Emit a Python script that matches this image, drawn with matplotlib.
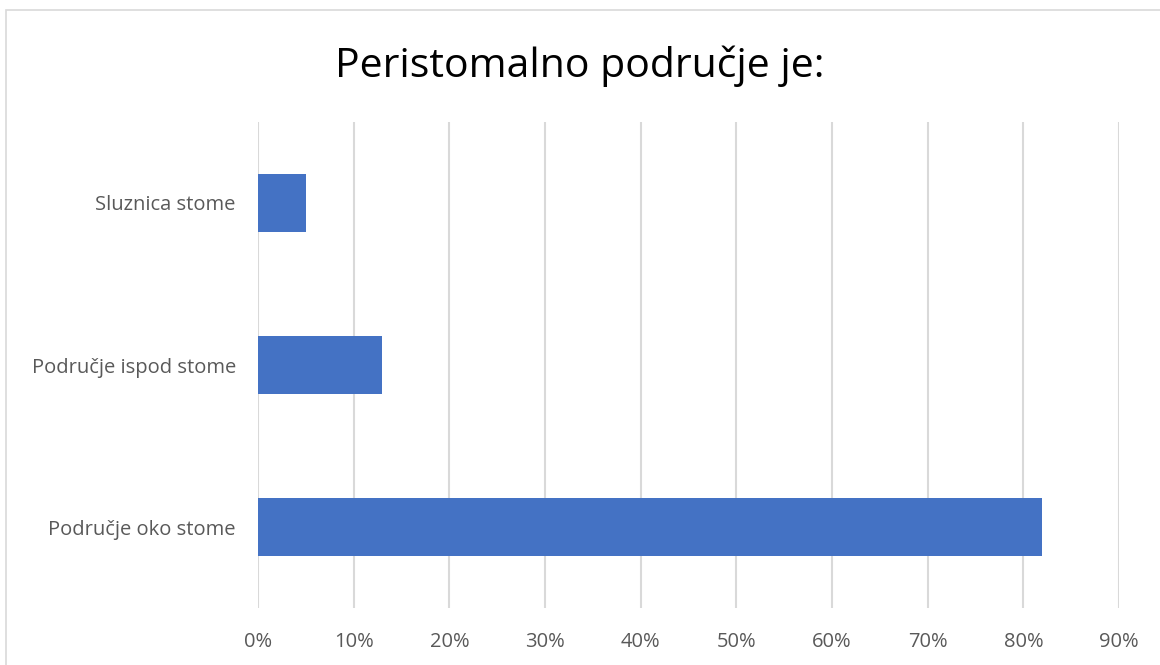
import matplotlib.pyplot as plt
from matplotlib.patches import Rectangle
from matplotlib.ticker import FuncFormatter, MultipleLocator

# data (percent)
categories = ["Područje oko stome", "Područje ispod stome", "Sluznica stome"]
values = [82, 13, 5]
title = "Peristomalno područje je:"

plt.rcParams['font.family'] = ['Open Sans', 'DejaVu Sans']

fig = plt.figure(figsize=(11.6, 6.65), dpi=100)

# light chart border, like the Excel chart frame
fig.patches.append(Rectangle((6 / 1160, -0.05), 1.2, 1 - 10 / 665 + 0.05,
                             transform=fig.transFigure, fill=False,
                             edgecolor="#d9d9d9", linewidth=1.2))

ax = fig.add_axes([258 / 1160, 1 - 608 / 665, 861 / 1160, 486 / 665])
ax.barh(range(len(categories)), values, height=0.36, color="#4472c4", zorder=3)

ax.set_xlim(0, 90)
ax.set_ylim(-0.5, len(categories) - 0.5)
ax.xaxis.set_major_locator(MultipleLocator(10))
ax.xaxis.set_major_formatter(FuncFormatter(lambda v, p: f"{v:.0f}%"))
ax.set_yticks(range(len(categories)))
ax.set_yticklabels(categories)

ax.grid(axis="x", color="#d9d9d9", linewidth=1.5, zorder=0)
for s in ax.spines.values():
    s.set_visible(False)
ax.tick_params(axis="both", length=0, labelsize=14.5, labelcolor="#595959")
ax.tick_params(axis="x", pad=17)
ax.tick_params(axis="y", pad=16)

fig.text(580 / 1160, 1 - 66 / 665, title, ha="center", va="center",
         fontsize=29.5, color="#000000")

plt.savefig("out.png", dpi=100)
